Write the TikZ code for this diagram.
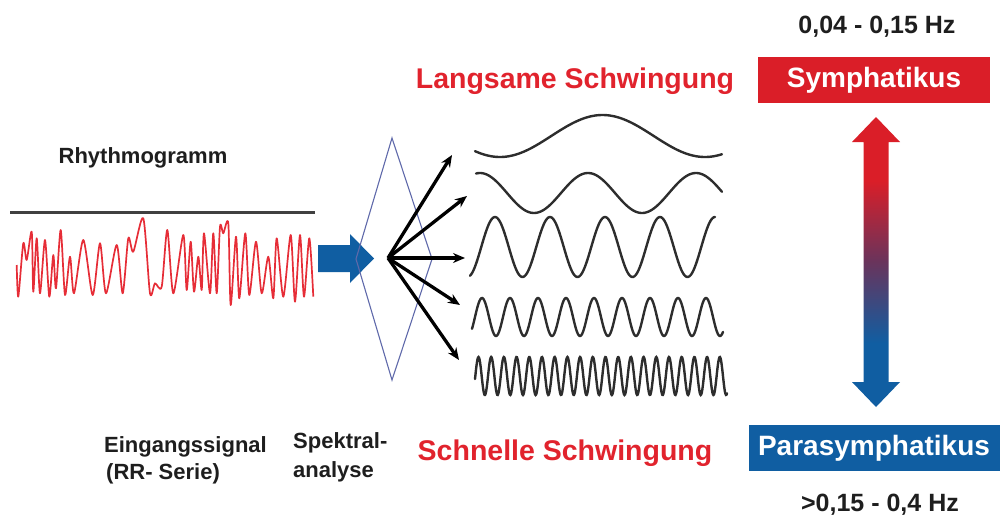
\documentclass[tikz,border=0pt]{standalone}
\usepackage{fontspec}
\setmainfont{Liberation Sans}
\usetikzlibrary{arrows.meta}

\definecolor{symred}{RGB}{218,30,40}
\definecolor{parablue}{RGB}{16,94,162}
\definecolor{sigred}{RGB}{230,45,55}
\definecolor{headred}{RGB}{225,35,45}
\definecolor{ink}{RGB}{30,30,30}
\definecolor{waveink}{RGB}{45,45,45}
\definecolor{prism}{RGB}{95,105,170}
\definecolor{midpurple}{RGB}{105,52,92}

% red on top, blue at the bottom of the double arrow
\pgfdeclareverticalshading{balance}{100bp}{color(0bp)=(parablue); color(36bp)=(parablue); color(50bp)=(midpurple); color(64bp)=(symred); color(100bp)=(symred)}

\tikzset{
  lbl/.style={font=\bfseries\fontsize{22}{26}\selectfont, text=ink, inner sep=0pt},
  hz/.style={font=\bfseries\fontsize{25}{29}\selectfont, text=ink, inner sep=0pt},
  redhead/.style={font=\bfseries\fontsize{28.5}{33}\selectfont, text=headred, inner sep=0pt},
  tagbox/.style={font=\bfseries\fontsize{28}{32}\selectfont, text=white, inner sep=0pt, minimum height=46pt},
  wavepen/.style={draw=waveink, line width=2.4pt, line cap=round},
  fanarrow/.style={draw=black, line width=3.3pt, -{Stealth[length=12pt,width=10pt]}},
}

\begin{document}
\begin{tikzpicture}[x=1pt, y=-1pt]
\useasboundingbox (0,0) rectangle (1002,525);

% ---- input signal ----
\node[lbl] (rhythmo) at (143,158) {Rhythmogramm};
\draw[draw=black!75, line width=2.6pt] (10,212.7) -- (315,212.7);
\draw[sigred, line width=1.7pt, line join=round] plot[smooth, tension=0.45] coordinates {
 (16.7,265) (18.3,296.7) (23.3,243.3) (26.7,260) (31.7,231.7) (33.3,291.7)
 (36.7,238.3) (40,293.3) (45,240) (49.3,296.7) (53.3,255) (56,288.3)
 (60.7,230) (65,295) (70,256.7) (74,293.3) (83.3,240) (92.7,295)
 (100,243.3) (106,293.3) (116.7,245) (122.7,293.3) (128.3,238.3) (133.3,251.7)
 (143.3,218.3) (150,293.3) (155,283.3) (161.7,286.7) (167.3,230) (173.3,293.3)
 (183.3,235) (186.7,290) (190.7,241.7) (194,291.7) (198.3,256.7) (201.7,290)
 (204,233.3) (210,293.3) (213.3,233.3) (216.7,293.3) (220,226.7) (223.3,233.3)
 (228.3,223.3) (230.7,305) (236,236.7) (239.3,298.3) (245.3,233.3) (249.3,295)
 (256,241.7) (261.7,293.3) (268.3,256.7) (273.3,298.3) (276.7,238.3) (283.3,296.7)
 (290.7,235) (295,301.7) (300,235) (304,296.7) (309.3,238.3) (313.3,296.7)};

\node[lbl, anchor=base west] (eing) at (104,452) {Eingangssignal};
\node[lbl, anchor=base west] (rrserie) at (106,479) {(RR- Serie)};

% ---- input arrow and spectral analysis prism ----
\fill[parablue] (318,245) -- (350,245) -- (350,234) -- (374,258.5)
  -- (350,283) -- (350,272) -- (318,272) -- cycle;
\draw[prism, line width=1.1pt, line join=miter]
  (392,138) -- (432,259) -- (392,380) -- (356,259) -- cycle;

\node[lbl, anchor=base west] (spek) at (293,448) {Spektral-};
\node[lbl, anchor=base west] (analyse) at (293,477) {analyse};

% ---- fan of components ----
\coordinate (fan) at (388,258);
\coordinate (c1) at (452,155);
\coordinate (c2) at (467,196);
\coordinate (c3) at (465,258);
\coordinate (c4) at (460,305);
\coordinate (c5) at (459,360);
\foreach \c in {c1,c2,c3,c4,c5}
  \draw[fanarrow] (fan) -- (\c);

% ---- component oscillations, slow to fast ----
\draw[wavepen] plot[domain=475:722, samples=120, smooth] (\x, {136+21*cos((\x-500)/205*360)});
\draw[wavepen] plot[domain=476:722, samples=150, smooth] (\x, {193-20*cos((\x-480)/108*360)});
\draw[wavepen] plot[domain=470:715, samples=220, smooth] (\x, {247-30*cos((\x-495)/55*360)});
\draw[wavepen] plot[domain=472:723, samples=300, smooth] (\x, {317-19*cos((\x-482)/28*360)});
\draw[wavepen] plot[domain=475:727, samples=500, smooth] (\x, {376-19*cos((\x-478.5)/12.7*360)});

\node[redhead, anchor=base] (slow) at (575,88) {Langsame Schwingung};
\node[redhead, anchor=base] (fast) at (565,460) {Schnelle Schwingung};

% ---- autonomic balance ----
\node[hz] (lf) at (877,27) {0,04 - 0,15 Hz};
\node[tagbox, fill=symred, minimum width=232pt] (symp) at (874,80) {Symphatikus};
\node[tagbox, fill=parablue, minimum width=251pt] (para) at (874,448) {Parasymphatikus};
\node[hz] (hf) at (880,505) {>0,15 - 0,4 Hz};

\shade[shading=balance] (876,117) -- (900,142) -- (888.5,142) -- (888.5,382)
  -- (900,382) -- (876,407) -- (852,382) -- (863.5,382) -- (863.5,142)
  -- (852,142) -- cycle;
\end{tikzpicture}
\end{document}
